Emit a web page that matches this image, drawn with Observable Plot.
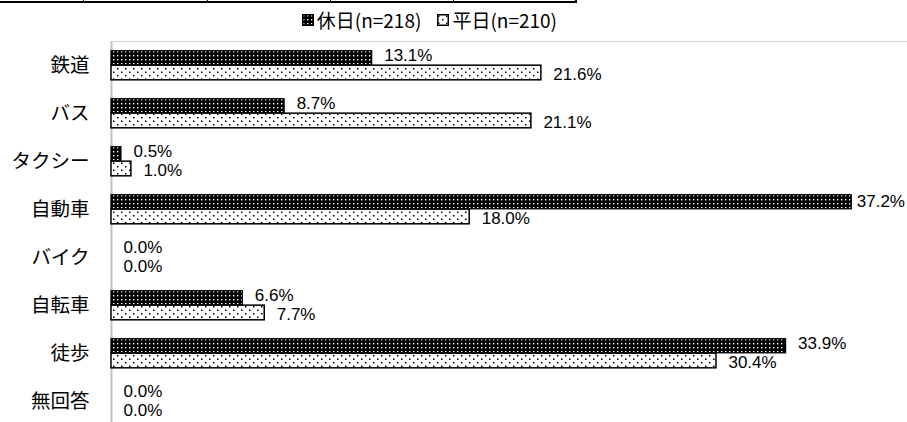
<!DOCTYPE html>
<html><head><meta charset="utf-8">
<script src="https://cdn.jsdelivr.net/npm/d3@7"></script>
<script src="https://cdn.jsdelivr.net/npm/@observablehq/plot@0.6"></script>
<style>
body{margin:0;background:#fff;}
#wrap{position:relative;width:907px;height:422px;overflow:hidden;background:#fff;font-family:'Noto Sans CJK JP',sans-serif;color:#000;}
#header{position:relative;height:42px;}
.topline{position:absolute;left:0;top:1px;width:577px;height:2px;background:#000;}
.tick{position:absolute;top:0;width:1px;height:2px;background:#000;}
.rend{position:absolute;left:575px;top:0;width:2px;height:3px;background:#000;}
.gridtop{position:absolute;left:110px;right:0;top:41px;height:1px;background:#d4d4d4;}
#legend{position:absolute;right:350px;top:7px;display:flex;align-items:center;font-size:19px;line-height:25px;white-space:nowrap;}
#legend .item{display:flex;align-items:center;margin-left:16px;}
#legend svg{margin-right:3px;}
</style></head><body>
<div id="wrap">
  <div id="header">
    <div class="topline"></div>
    <div class="tick" style="left:83px"></div>
    <div class="tick" style="left:207px"></div>
    <div class="tick" style="left:330px"></div>
    <div class="tick" style="left:453px"></div>
    <div class="rend"></div>
    <div id="legend"></div>
    <div class="gridtop"></div>
  </div>
  <div id="chart"></div>
</div>
<script>
const categories = ["鉄道","バス","タクシー","自動車","バイク","自転車","徒歩","無回答"];
const holiday = [13.1, 8.7, 0.5, 37.2, 0.0, 6.6, 33.9, 0.0];
const weekday = [21.6, 21.1, 1.0, 18.0, 0.0, 7.7, 30.4, 0.0];
const seriesNames = ["休日(n=218)", "平日(n=210)"];

const hol = categories.map((c, i) => ({cat: c, s: seriesNames[0], v: holiday[i]}));
const wk = categories.map((c, i) => ({cat: c, s: seriesNames[1], v: weekday[i]}));
const maxV = d3.max([...holiday, ...weekday]);

function addPatterns(svgSel, suffix) {
  const defs = svgSel.insert("defs", ":first-child");
  const p1 = defs.append("pattern").attr("id", "patHol" + suffix)
    .attr("patternUnits", "userSpaceOnUse").attr("width", 4).attr("height", 4);
  p1.append("rect").attr("width", 4).attr("height", 4).attr("fill", "#000");
  p1.append("rect").attr("x", 1).attr("y", 1).attr("width", 1.4).attr("height", 1.4).attr("fill", "#fff");
  const p2 = defs.append("pattern").attr("id", "patWk" + suffix)
    .attr("patternUnits", "userSpaceOnUse").attr("width", 8).attr("height", 7);
  p2.append("rect").attr("width", 8).attr("height", 7).attr("fill", "#fff");
  p2.append("rect").attr("x", 1).attr("y", 1.5).attr("width", 1.5).attr("height", 1.5).attr("fill", "#000");
  p2.append("rect").attr("x", 5).attr("y", 5).attr("width", 1.5).attr("height", 1.5).attr("fill", "#000");
}

// Legend
const legend = d3.select("#legend");
seriesNames.forEach((name, i) => {
  const item = legend.append("div").attr("class", "item");
  const s = item.append("svg").attr("width", 12).attr("height", 12);
  addPatterns(s, "L" + i);
  s.append("rect").attr("x", 0.75).attr("y", 0.75).attr("width", 10.5).attr("height", 10.5)
    .attr("fill", i === 0 ? "url(#patHolL0)" : "url(#patWkL1)")
    .attr("stroke", "#000").attr("stroke-width", 1.5);
  item.append("span").text(name);
});

const numFont = "'Liberation Sans', Arial, sans-serif";
const fmt = d => d.v.toFixed(1) + "%";
const labelOpts = {x: "v", y: "cat", text: fmt, textAnchor: "start", fontSize: 17, fontFamily: numFont, fill: "#000"};

const plot = Plot.plot({
  width: 907,
  height: 380,
  marginLeft: 111,
  marginRight: 0,
  marginTop: 0,
  marginBottom: 0,
  x: {domain: [0, 40], axis: null},
  y: {domain: categories, range: [-1.7, 384.7], padding: 0, axis: null},
  style: {fontFamily: "'Noto Sans CJK JP', sans-serif", color: "#000", background: "#fff"},
  marks: [
    Plot.ruleX([0], {stroke: "#bfbfbf", strokeWidth: 2}),
    Plot.barX(hol.filter(d => d.v > 0), {x: "v", y: "cat", insetTop: 9.7, insetBottom: 24.15, fill: "url(#patHol)", stroke: "#000", strokeWidth: 1.2}),
    Plot.barX(wk.filter(d => d.v > 0), {x: "v", y: "cat", insetTop: 24.15, insetBottom: 9.2, fill: "url(#patWk)", stroke: "#000", strokeWidth: 1.5}),
    Plot.text(hol.filter(d => d.v < maxV), {...labelOpts, dx: 12, dy: -10}),
    Plot.text(hol.filter(d => d.v === maxV), {...labelOpts, dx: 5, dy: -8}),
    Plot.text(wk, {...labelOpts, dx: 12, dy: 9}),
    Plot.axisY({tickSize: 0, tickPadding: 22, fontSize: 19.5, label: null})
  ]
});
addPatterns(d3.select(plot), "");
document.getElementById("chart").appendChild(plot);
</script>
</body></html>
